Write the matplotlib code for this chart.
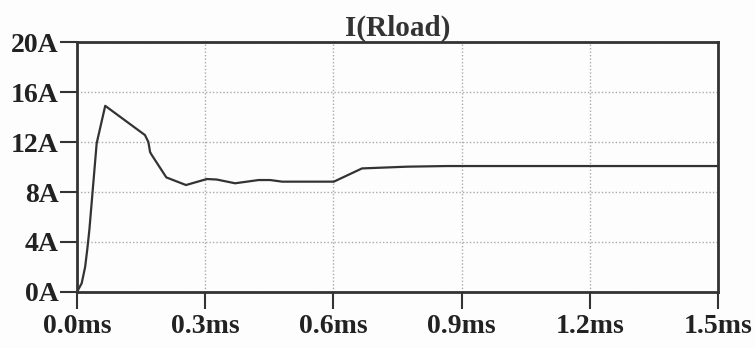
import matplotlib
matplotlib.use('Agg')
import matplotlib.pyplot as plt

# waveform (time in ms, current in A)
t_ms = [0.0, 0.011, 0.019, 0.024, 0.029, 0.046, 0.066, 0.159, 0.167, 0.171, 0.175,
        0.209, 0.255, 0.304, 0.327, 0.370, 0.425, 0.452, 0.480, 0.523, 0.601,
        0.667, 0.773, 0.866, 0.991, 1.5]
i_load = [0.0, 0.7, 2.0, 3.4, 5.0, 11.9, 14.9, 12.56, 12.0, 11.2, 10.96,
          9.17, 8.56, 9.04, 9.0, 8.7, 8.96, 8.96, 8.83, 8.83, 8.83,
          9.89, 10.03, 10.08, 10.08, 10.08]

xticks = [0.0, 0.3, 0.6, 0.9, 1.2, 1.5]
xlabels = ['0.0ms', '0.3ms', '0.6ms', '0.9ms', '1.2ms', '1.5ms']
yticks = [0, 4, 8, 12, 16, 20]
ylabels = ['0A', '4A', '8A', '12A', '16A', '20A']

plt.rcParams['font.family'] = ['Liberation Serif', 'DejaVu Serif']
plt.rcParams['font.weight'] = 'bold'

fig = plt.figure(figsize=(7.55, 3.48), dpi=100)
fig.patch.set_facecolor('#fdfdfd')
ax = fig.add_axes([0.102, 0.161, 0.849, 0.718])
ax.set_facecolor('#fdfdfd')

ax.plot(t_ms, i_load, color='#333333', linewidth=1.6)

ax.set_xlim(0, 1.5)
ax.set_ylim(0, 20)
ax.set_xticks(xticks)
ax.set_xticklabels(xlabels)
ax.set_yticks(yticks)
ax.set_yticklabels(ylabels)

# dotted grid like the LTspice export
ax.grid(True, linestyle=(0, (1, 1.5)), color='#aaaaaa', linewidth=1.0)
for s in ax.spines.values():
    s.set_color('#333333')
    s.set_linewidth(2)

ax.tick_params(axis='both', direction='out', length=12.2, width=1.5,
               color='#333333', labelsize=20, labelcolor='#222222')
ax.tick_params(axis='x', pad=4)
ax.tick_params(axis='y', pad=1)

ax.set_title('I(Rload)', fontsize=21, fontweight='bold', color='#333333', pad=3)

plt.savefig('out.png', dpi=100, facecolor=fig.get_facecolor())
